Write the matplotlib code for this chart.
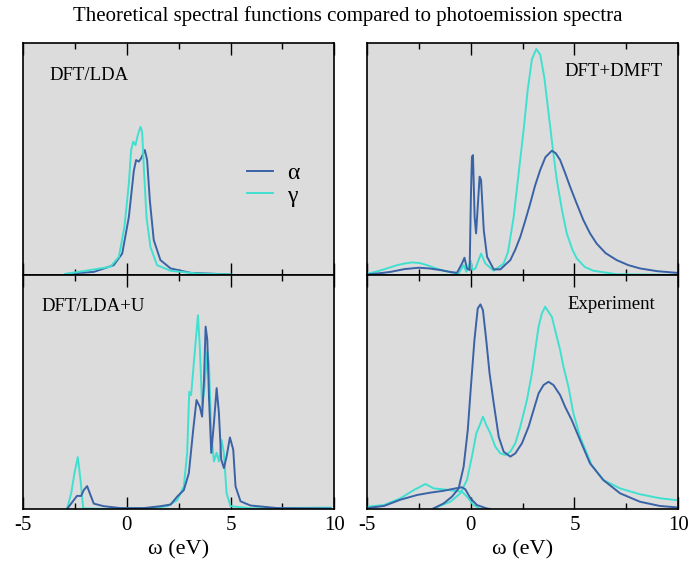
import numpy as np
import matplotlib
matplotlib.use('Agg')
import matplotlib.pyplot as plt
from matplotlib.ticker import MultipleLocator

plt.rcParams['font.family'] = ['Liberation Serif', 'DejaVu Serif']
plt.rcParams['axes.unicode_minus'] = False

blue = '#3a62a6'
cyan = '#40e0d0'

# DFT/LDA
lda_a_w = [-2.97, -1.59, -0.63, -0.22, 0.10, 0.34, 0.45, 0.58, 0.69, 0.87, 0.98, 1.11, 1.30, 1.62, 2.11, 3.07, 4.99]
lda_a = [0.005, 0.014, 0.043, 0.093, 0.25, 0.45, 0.496, 0.489, 0.503, 0.539, 0.496, 0.323, 0.151, 0.065, 0.029, 0.010, 0.003]
lda_g_w = [-2.97, -0.79, -0.38, -0.11, 0.10, 0.21, 0.31, 0.42, 0.53, 0.66, 0.74, 0.82, 0.95, 1.14, 1.46, 2.11, 3.39, 4.99]
lda_g = [0.005, 0.036, 0.079, 0.21, 0.395, 0.539, 0.575, 0.56, 0.603, 0.639, 0.618, 0.467, 0.25, 0.122, 0.043, 0.019, 0.007, 0.003]

# DFT+DMFT
dmft_a_w = [-4.98, -4.4, -3.86, -3.2, -2.5, -2.0, -1.46, -1.0, -0.66, -0.42, -0.30, -0.18, -0.05, 0.01, 0.06, 0.11,
            0.19, 0.26, 0.34, 0.43, 0.50, 0.63, 0.79, 1.11, 1.43, 1.91, 2.15, 2.39, 2.63, 2.87, 3.1, 3.35, 3.6, 3.91,
            4.1, 4.31, 4.55, 4.79, 5.1, 5.43, 5.75, 6.07, 6.5, 7.03, 7.6, 8.16, 9.0, 9.92]
dmft_a = [0.003, 0.008, 0.014, 0.026, 0.032, 0.029, 0.022, 0.014, 0.010, 0.05, 0.075, 0.029, 0.022, 0.338, 0.51, 0.517,
          0.25, 0.18, 0.295, 0.424, 0.41, 0.194, 0.079, 0.025, 0.025, 0.065, 0.11, 0.165, 0.235, 0.309, 0.385, 0.453,
          0.508, 0.536, 0.525, 0.496, 0.44, 0.381, 0.31, 0.237, 0.18, 0.136, 0.095, 0.065, 0.043, 0.029, 0.017, 0.010]
dmft_g_w = [-4.98, -4.6, -4.18, -3.54, -3.2, -2.82, -2.45, -2.10, -1.7, -1.30, -0.9, -0.58, -0.34, -0.21, -0.10, -0.01,
            0.08, 0.23, 0.50, 0.71, 1.11, 1.59, 1.8, 2.07, 2.3, 2.55, 2.75, 2.95, 3.16, 3.35, 3.55, 3.75, 3.95, 4.15,
            4.4, 4.63, 4.9, 5.11, 5.5, 5.91, 7.03, 9.92]
dmft_g = [0.006, 0.014, 0.025, 0.043, 0.05, 0.055, 0.052, 0.043, 0.03, 0.019, 0.011, 0.007, 0.043, 0.014, 0.036, 0.062,
          0.022, 0.029, 0.093, 0.05, 0.019, 0.05, 0.10, 0.25, 0.43, 0.625, 0.80, 0.93, 0.974, 0.95, 0.85, 0.70, 0.55,
          0.41, 0.28, 0.18, 0.11, 0.072, 0.035, 0.019, 0.004, 0.001]

# DFT/LDA+U
ldau_a_w = [-2.88, -2.64, -2.40, -2.20, -2.07, -1.91, -1.78, -1.59, -1.11, -0.31, 0.82, 1.62, 2.11, 2.43, 2.75, 2.99,
            3.20, 3.36, 3.52, 3.63, 3.72, 3.80, 3.88, 3.96, 4.07, 4.20, 4.33, 4.44, 4.55, 4.68, 4.81, 4.97, 5.13,
            5.24, 5.48, 5.96, 7.25, 9.82]
ldau_a = [0.0, 0.028, 0.056, 0.056, 0.081, 0.098, 0.067, 0.023, 0.012, 0.004, 0.004, 0.012, 0.019, 0.053, 0.081, 0.153,
          0.338, 0.466, 0.437, 0.395, 0.551, 0.78, 0.724, 0.482, 0.24, 0.368, 0.517, 0.41, 0.212, 0.175, 0.225, 0.306, 0.254,
          0.097, 0.033, 0.015, 0.004, 0.002]
ldau_g_w = [-2.88, -2.68, -2.52, -2.36, -2.23, -2.10, -1.0, 1.14, 1.95, 2.43, 2.75, 2.91, 3.01, 3.10, 3.23, 3.43,
            3.52, 3.63, 3.75, 3.88, 3.96, 4.07, 4.20, 4.33, 4.44, 4.57, 4.68, 4.81, 5.00, 6.0, 9.82]
ldau_g = [0.0, 0.067, 0.153, 0.222, 0.125, 0.003, 0.0, 0.004, 0.012, 0.038, 0.097, 0.24, 0.501, 0.487, 0.623, 0.829,
          0.694, 0.437, 0.523, 0.673, 0.623, 0.324, 0.203, 0.241, 0.203, 0.295, 0.238, 0.067, 0.012, 0.003, 0.006]

# Experiment (unoccupied and occupied parts)
exp_a_w = [-1.78, -1.30, -0.90, -0.58, -0.34, -0.14, 0.01, 0.18, 0.34, 0.47, 0.59, 0.75, 0.91, 1.11, 1.35, 1.59,
           1.91, 2.15, 2.47, 2.79, 3.03, 3.27, 3.51, 3.75, 3.99, 4.31, 4.55, 4.87, 5.27, 5.75, 6.39, 7.20, 8.16, 9.12, 9.92]
exp_a = [0.003, 0.024, 0.053, 0.088, 0.181, 0.338, 0.523, 0.722, 0.858, 0.875, 0.85, 0.722, 0.58, 0.452, 0.309, 0.245,
         0.224, 0.238, 0.281, 0.352, 0.423, 0.494, 0.53, 0.544, 0.53, 0.487, 0.437, 0.38, 0.295, 0.195, 0.124, 0.067, 0.031, 0.013, 0.007]
exp_g_w = [-1.78, -0.98, -0.50, -0.18, 0.06, 0.27, 0.47, 0.59, 0.75, 0.95, 1.19, 1.43, 1.67, 1.91, 2.15, 2.39, 2.71,
           2.95, 3.11, 3.27, 3.43, 3.59, 3.75, 3.91, 4.07, 4.31, 4.47, 4.71, 4.95, 5.27, 5.83, 6.39, 7.20, 8.16, 9.12, 9.92]
exp_g = [0.003, 0.031, 0.067, 0.124, 0.224, 0.323, 0.366, 0.395, 0.359, 0.323, 0.266, 0.238, 0.231, 0.245, 0.281, 0.352,
         0.466, 0.58, 0.68, 0.779, 0.836, 0.865, 0.843, 0.822, 0.765, 0.68, 0.608, 0.523, 0.409, 0.309, 0.188, 0.124, 0.088,
         0.063, 0.046, 0.038]
occ_a_w = [-4.98, -4.18, -3.38, -2.58, -1.94, -1.30, -0.74, -0.42, -0.26, -0.01, 0.30, 0.79, 0.95]
occ_a = [0.004, 0.013, 0.04, 0.06, 0.07, 0.078, 0.088, 0.093, 0.084, 0.046, 0.017, 0.002, 0.0]
occ_g_w = [-4.98, -4.18, -3.38, -2.74, -2.18, -1.78, -1.30, -0.82, -0.42, -0.18, 0.14, 0.47]
occ_g = [0.01, 0.017, 0.046, 0.081, 0.107, 0.088, 0.084, 0.078, 0.074, 0.053, 0.017, 0.0]

fig = plt.figure(figsize=(6.91, 5.65), dpi=100)
x0l, x0r, w = 0.0333, 0.531, 0.4505
yb, ym, yt = 0.0991, 0.513, 0.9239
ax_tl = fig.add_axes([x0l, ym, w, yt - ym])
ax_tr = fig.add_axes([x0r, ym, w, yt - ym])
ax_bl = fig.add_axes([x0l, yb, w, ym - yb])
ax_br = fig.add_axes([x0r, yb, w, ym - yb])

lw = 1.4
ax_tl.plot(lda_a_w, lda_a, color=blue, lw=lw, label='α')
ax_tl.plot(lda_g_w, lda_g, color=cyan, lw=lw, label='γ')
ax_tr.plot(dmft_g_w, dmft_g, color=cyan, lw=lw)
ax_tr.plot(dmft_a_w, dmft_a, color=blue, lw=lw)
ax_bl.plot(ldau_g_w, ldau_g, color=cyan, lw=lw)
ax_bl.plot(ldau_a_w, ldau_a, color=blue, lw=lw)
ax_br.plot(exp_g_w, exp_g, color=cyan, lw=lw)
ax_br.plot(occ_g_w, occ_g, color=cyan, lw=lw)
ax_br.plot(exp_a_w, exp_a, color=blue, lw=lw)
ax_br.plot(occ_a_w, occ_a, color=blue, lw=lw)

for ax in [ax_tl, ax_tr, ax_bl, ax_br]:
    ax.set_facecolor('#dcdcdc')
    ax.set_xlim(-5, 10)
    ax.set_ylim(0, 1)
    ax.set_yticks([])
    ax.xaxis.set_major_locator(MultipleLocator(5))
    ax.xaxis.set_minor_locator(MultipleLocator(2.5))
    ax.tick_params(axis='x', which='both', direction='in', top=True, width=1.0, labelsize=15, pad=5)
    ax.tick_params(axis='x', which='major', length=8.5)
    ax.tick_params(axis='x', which='minor', length=4.3)
    for s in ax.spines.values():
        s.set_linewidth(1.2)

for ax in [ax_tl, ax_tr]:
    ax.tick_params(labelbottom=False)
for ax in [ax_bl, ax_br]:
    ax.set_xlabel('ω (eV)', fontsize=16, labelpad=4)

ax_tl.text(0.084, 0.862, 'DFT/LDA', transform=ax_tl.transAxes, fontsize=13.5, va='center')
ax_bl.text(0.058, 0.868, 'DFT/LDA+U', transform=ax_bl.transAxes, fontsize=13.5, va='center')
ax_tr.text(0.949, 0.879, 'DFT+DMFT', transform=ax_tr.transAxes, fontsize=13.5, va='center', ha='right')
ax_br.text(0.926, 0.876, 'Experiment', transform=ax_br.transAxes, fontsize=13.5, va='center', ha='right')

ax_tl.legend(loc='center left', bbox_to_anchor=(0.72, 0.39), frameon=False, fontsize=17,
             handlelength=1.1, handletextpad=0.6, labelspacing=0.05, borderpad=0, borderaxespad=0)

fig.text(0.503, 0.972, 'Theoretical spectral functions compared to photoemission spectra',
         ha='center', va='center', fontsize=15)

fig.savefig('out.png', dpi=100)
